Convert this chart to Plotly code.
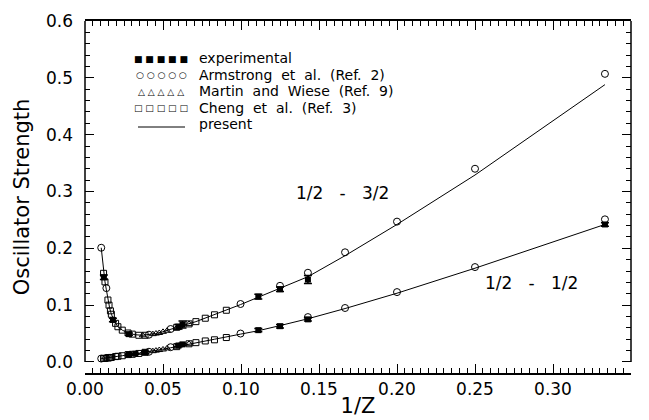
import plotly.graph_objects as go

# ---- data (x = 1/Z) ----
present_x = [0.0104, 0.0112, 0.0120, 0.0128, 0.0137, 0.0147, 0.0158, 0.0169, 0.0180, 0.0196,
             0.0211, 0.0239, 0.0276, 0.0320, 0.0367, 0.0410, 0.0453, 0.0496, 0.0549, 0.0625,
             0.0711, 0.0830, 0.0997, 0.1111, 0.1250, 0.1429, 0.1667, 0.2000, 0.2500, 0.3333]
present_y_32 = [0.201, 0.176, 0.157, 0.141, 0.127, 0.110, 0.095, 0.084, 0.076, 0.068,
                0.062, 0.056, 0.051, 0.048, 0.047, 0.048, 0.050, 0.053, 0.058, 0.064,
                0.071, 0.083, 0.101, 0.114, 0.130, 0.150, 0.187, 0.242, 0.329, 0.488]
present_y_12 = [0.006, 0.0062, 0.0065, 0.0068, 0.007, 0.0075, 0.008, 0.0085, 0.009, 0.0095,
                0.010, 0.011, 0.013, 0.014, 0.016, 0.018, 0.020, 0.022, 0.025, 0.029,
                0.034, 0.040, 0.049, 0.055, 0.064, 0.076, 0.094, 0.121, 0.165, 0.242]

arm_x_32 = [0.0104, 0.0137, 0.0410, 0.0549, 0.0997, 0.1250, 0.1429, 0.1667, 0.2000, 0.2500, 0.3333]
arm_y_32 = [0.201, 0.130, 0.048, 0.058, 0.102, 0.134, 0.157, 0.193, 0.247, 0.340, 0.507]
arm_x_12 = [0.0104, 0.0137, 0.0410, 0.0549, 0.0997, 0.1429, 0.1667, 0.2000, 0.2500, 0.3333]
arm_y_12 = [0.006, 0.007, 0.018, 0.026, 0.050, 0.079, 0.095, 0.123, 0.167, 0.251]

mw_x = [0.0370, 0.0435, 0.0455, 0.0476, 0.0500, 0.0526, 0.0588, 0.0667]
mw_y_32 = [0.047, 0.049, 0.050, 0.051, 0.053, 0.055, 0.060, 0.067]
mw_y_12 = [0.016, 0.019, 0.020, 0.021, 0.022, 0.024, 0.027, 0.032]

ch_x = [0.0119, 0.0128, 0.0147, 0.0154, 0.0163, 0.0169, 0.0196, 0.0211, 0.0239, 0.0276,
        0.0303, 0.0345, 0.0385, 0.0588, 0.0667, 0.0711, 0.0771, 0.0830, 0.0906]
ch_y_32 = [0.156, 0.141, 0.109, 0.100, 0.090, 0.084, 0.068, 0.062, 0.056, 0.051,
           0.049, 0.047, 0.047, 0.061, 0.067, 0.071, 0.077, 0.083, 0.091]
ch_y_12 = [0.0062, 0.0065, 0.007, 0.0075, 0.0078, 0.008, 0.0095, 0.010, 0.011, 0.013,
           0.0135, 0.015, 0.017, 0.027, 0.032, 0.034, 0.037, 0.039, 0.043]

exp_x_32 = [0.0121, 0.0179, 0.0282, 0.0600, 0.0625, 0.1111, 0.1250, 0.1429]
exp_y_32 = [0.149, 0.074, 0.049, 0.062, 0.066, 0.115, 0.128, 0.145]
exp_e_32 = [0.004, 0.003, 0.002, 0.004, 0.006, 0.004, 0.004, 0.007]
exp_x_12 = [0.0282, 0.0323, 0.0387, 0.0600, 0.0625, 0.1111, 0.1250, 0.1429, 0.3333]
exp_y_12 = [0.013, 0.0145, 0.017, 0.029, 0.031, 0.056, 0.063, 0.075, 0.242]
exp_e_12 = [0.001, 0.001, 0.002, 0.002, 0.002, 0.003, 0.003, 0.003, 0.003]

legend_labels = ["experimental", "Armstrong  et  al.  (Ref.  2)", "Martin  and  Wiese  (Ref.  9)",
                 "Cheng  et  al.  (Ref.  3)", "present"]
legend_glyphs = ["■ ■ ■ ■ ■", "○ ○ ○ ○ ○", "△ △ △ △ △", "□ □ □ □ □"]
curve_labels = ["1/2   -   3/2", "1/2   -   1/2"]

FONT = "DejaVu Sans"
fig = go.Figure()

for y in (present_y_32, present_y_12):
    fig.add_trace(go.Scatter(x=present_x, y=y, mode="lines",
                             line=dict(color="black", width=1), showlegend=False))

for xs, ys in ((ch_x, ch_y_32), (ch_x, ch_y_12)):
    fig.add_trace(go.Scatter(x=xs, y=ys, mode="markers", showlegend=False,
                             marker=dict(symbol="square-open", size=6, color="black",
                                         line=dict(width=1))))
for xs, ys in ((mw_x, mw_y_32), (mw_x, mw_y_12)):
    fig.add_trace(go.Scatter(x=xs, y=ys, mode="markers", showlegend=False,
                             marker=dict(symbol="triangle-up-open", size=6, color="black",
                                         line=dict(width=1))))
for xs, ys in ((arm_x_32, arm_y_32), (arm_x_12, arm_y_12)):
    fig.add_trace(go.Scatter(x=xs, y=ys, mode="markers", showlegend=False,
                             marker=dict(symbol="circle-open", size=7, color="black",
                                         line=dict(width=1))))
for xs, ys, es in ((exp_x_32, exp_y_32, exp_e_32), (exp_x_12, exp_y_12, exp_e_12)):
    fig.add_trace(go.Scatter(x=xs, y=ys, mode="markers", showlegend=False,
                             error_y=dict(type="data", array=es, visible=True,
                                          color="black", thickness=1.5, width=4),
                             marker=dict(symbol="square", size=6, color="black")))

# The page body has an 8px margin, so the figure is drawn at (8, 8).
# Target plot area on the page: left 85, right 631, top 21, bottom 373.
OFF = 8
W, H = 649 - OFF, 420 - OFF
L, T = 85 - OFF, 21 - OFF
R = 649 - 631
B = H - T - 352
pw, ph = W - L - R, H - T - B

def px(x):
    return (x - OFF - L) / pw

def py(y):
    return (OFF + H - B - y) / ph

annotations = []
rows = [58, 74.5, 91, 107.5, 124]
for i, lab in enumerate(legend_labels):
    annotations.append(dict(x=px(197), y=py(rows[i]), xref="paper", yref="paper",
                            text=lab, showarrow=False, xanchor="left", yanchor="middle",
                            font=dict(family=FONT, size=14, color="black")))
for i, g in enumerate(legend_glyphs):
    annotations.append(dict(x=px(161), y=py(rows[i] + 1), xref="paper", yref="paper",
                            text=g, showarrow=False, xanchor="center", yanchor="middle",
                            font=dict(family=FONT, size=9, color="black")))
annotations.append(dict(x=0.165, y=0.297, xref="x", yref="y", text=curve_labels[0],
                        showarrow=False, font=dict(family=FONT, size=17, color="black")))
annotations.append(dict(x=0.286, y=0.139, xref="x", yref="y", text=curve_labels[1],
                        showarrow=False, font=dict(family=FONT, size=17, color="black")))

shapes = [
    dict(type="line", xref="paper", yref="paper", x0=px(138), x1=px(185),
         y0=py(127), y1=py(127), line=dict(color="black", width=1)),
    dict(type="line", xref="paper", yref="y", x0=0, x1=0, y0=0, y1=0.6,
         line=dict(color="black", width=1.5)),
    dict(type="line", xref="paper", yref="y", x0=1, x1=1, y0=0, y1=0.6,
         line=dict(color="black", width=1.5)),
]

fig.update_layout(
    width=W, height=H,
    margin=dict(l=L, r=R, t=T, b=B, pad=0, autoexpand=False),
    paper_bgcolor="white", plot_bgcolor="white",
    showlegend=False,
    annotations=annotations, shapes=shapes,
    font=dict(family=FONT, color="black"),
    xaxis=dict(range=[0, 0.35], dtick=0.05, tickformat=".2f", ticks="inside",
               ticklen=9, tickwidth=1, tickcolor="black", showline=True,
               linecolor="black", linewidth=1.5, mirror="ticks", showgrid=False,
               zeroline=False, tickfont=dict(family=FONT, size=17), automargin=False,
               minor=dict(dtick=0.005, ticks="inside", ticklen=5, tickcolor="black",
                          showgrid=False),
               title=dict(text="1/Z", font=dict(family=FONT, size=21), standoff=0)),
    yaxis=dict(range=[-0.0194, 0.6], tick0=0, dtick=0.1, tickformat=".1f", ticks="inside",
               ticklen=9, tickwidth=1, tickcolor="black", showline=False,
               mirror="ticks", showgrid=False, zeroline=False, automargin=False,
               tickfont=dict(family=FONT, size=17), ticklabelstandoff=11,
               minor=dict(tick0=0, dtick=0.02, ticks="inside", ticklen=5,
                          tickcolor="black", showgrid=False),
               title=dict(text="Oscillator Strength", font=dict(family=FONT, size=21),
                          standoff=10)),
)

fig.write_html("out.html")
